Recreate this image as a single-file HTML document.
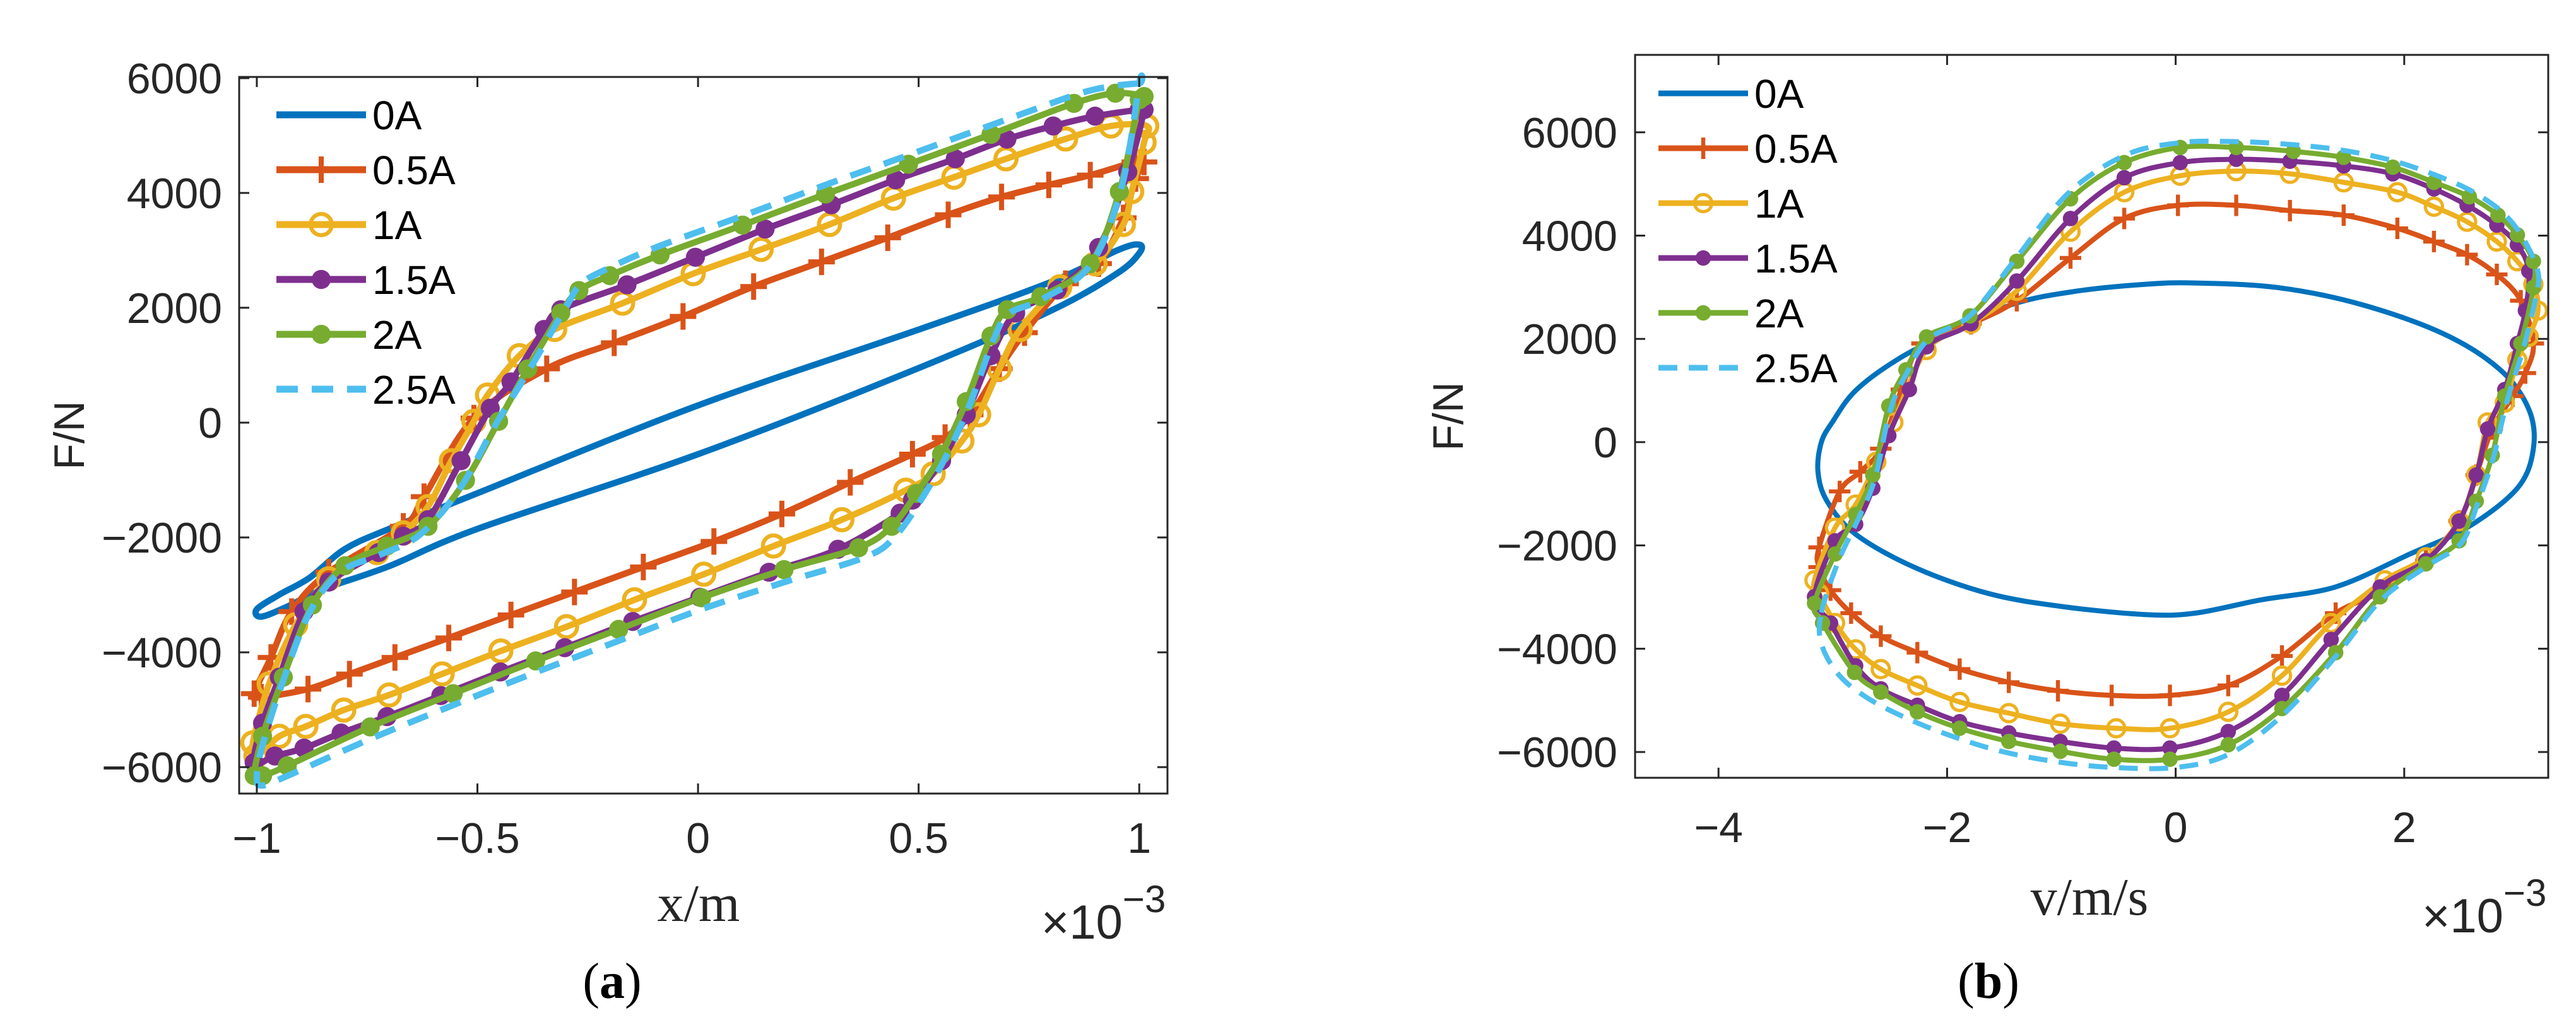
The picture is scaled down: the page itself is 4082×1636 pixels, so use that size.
<!DOCTYPE html>
<html><head><meta charset="utf-8"><style>
html,body{margin:0;padding:0;background:#fff;}
svg{display:block;}
.tk{font-family:"Liberation Sans",sans-serif;font-size:68px;fill:#262626;}
.lg{font-family:"Liberation Sans",sans-serif;font-size:64px;fill:#000;}
.xl{font-family:"Liberation Serif",serif;font-size:84px;fill:#262626;}
.cap{font-family:"Liberation Serif",serif;font-size:80px;font-weight:bold;fill:#000;}
</style></head><body>
<svg id="fig" width="4082" height="1636" viewBox="0 0 4082 1636" xmlns="http://www.w3.org/2000/svg">
<g id="pa"></g>
<g id="pb"></g>
</svg>
<script>
const seriesNames = ["0A","0.5A","1A","1.5A","2A","2.5A"];
const colors = ["#0072BD","#D95319","#EDB120","#7E2F8E","#77AC30","#4DBEEE"];
const markers = ["none","plus","ocircle","dot","dot","none"];
const aXTicks = [-1,-0.5,0,0.5,1];
const aXTickLabels = ["\u22121","\u22120.5","0","0.5","1"];
const aYTicks = [-6000,-4000,-2000,0,2000,4000,6000];
const aYTickLabels = ["\u22126000","\u22124000","\u22122000","0","2000","4000","6000"];
const bXTicks = [-4,-2,0,2];
const bXTickLabels = ["\u22124","\u22122","0","2"];
const bYTicks = [-6000,-4000,-2000,0,2000,4000,6000];
const bYTickLabels = ["\u22126000","\u22124000","\u22122000","0","2000","4000","6000"];

const a0X = [1.0,0.95,0.8,0.5,0,-0.5,-0.7,-0.8,-0.88,-0.95,-1.0,-0.99,-0.93,-0.85,-0.7,-0.5,0,0.5,0.8,0.95,1.0];
const a0F = [3100,3000,2450,1620,300,-1230,-1850,-2200,-2700,-3000,-3250,-3380,-3200,-2900,-2500,-1850,-550,950,1950,2600,2950];

const a1X = [0.99,0.889,0.795,0.688,0.567,0.43,0.28,0.126,-0.034,-0.19,-0.343,-0.508,-0.621,-0.668,-0.837,-0.921,-0.968,-1.006,-0.99,-0.884,-0.79,-0.687,-0.565,-0.424,-0.28,-0.124,0.036,0.19,0.345,0.486,0.56,0.617,0.683,0.74,0.833,0.908,0.964,0.992,1.011];
const a1F = [4540,4310,4140,3930,3620,3220,2800,2370,1850,1390,937,80,-1290,-1806,-2606,-3290,-4090,-4720,-4780,-4640,-4380,-4090,-3750,-3350,-2950,-2514,-2070,-1590,-1040,-550,-260,137,940,1566,2420,2770,3566,4250,4540];

const a2X = [1.017,0.936,0.833,0.698,0.58,0.443,0.298,0.143,-0.011,-0.171,-0.325,-0.405,-0.477,-0.508,-0.559,-0.612,-0.668,-0.728,-0.837,-0.912,-0.972,-1.009,-1.002,-0.949,-0.889,-0.803,-0.7,-0.58,-0.447,-0.298,-0.144,0.013,0.171,0.326,0.471,0.533,0.598,0.636,0.683,0.73,0.82,0.9,0.964,0.983,1.011];
const a2F = [5166,5166,4940,4594,4274,3909,3451,3017,2594,2080,1623,1166,480,23,-663,-1463,-1920,-2263,-2720,-3520,-4549,-5577,-5806,-5463,-5291,-5006,-4743,-4377,-3977,-3554,-3086,-2640,-2149,-1691,-1177,-891,-320,137,937,1623,2366,2766,3451,4023,4880];

const a3X = [1.0,0.9,0.805,0.7,0.583,0.448,0.302,0.152,-0.006,-0.161,-0.311,-0.349,-0.424,-0.471,-0.537,-0.612,-0.668,-0.724,-0.837,-0.893,-0.949,-0.987,-1.006,-0.959,-0.893,-0.809,-0.705,-0.583,-0.448,-0.302,-0.148,0.004,0.161,0.317,0.458,0.486,0.552,0.608,0.664,0.72,0.814,0.908,0.974,1.011];
const a3F = [5450,5337,5166,4937,4594,4229,3794,3371,2880,2400,1966,1623,709,251,-663,-1691,-1977,-2263,-2777,-3291,-4434,-5234,-5920,-5806,-5669,-5406,-5120,-4754,-4343,-3920,-3463,-3040,-2606,-2206,-1577,-1349,-663,137,1166,1909,2309,3051,4366,5451];

const a4X = [1.011,0.946,0.852,0.664,0.477,0.289,0.101,-0.086,-0.2,-0.27,-0.311,-0.386,-0.452,-0.527,-0.612,-0.705,-0.8,-0.874,-0.94,-0.987,-1.006,-0.987,-0.931,-0.743,-0.555,-0.368,-0.18,0.008,0.195,0.364,0.439,0.495,0.552,0.608,0.664,0.701,0.777,0.889,0.955,1.0];
const a4F = [5680,5737,5560,5020,4500,3980,3440,2920,2560,2300,1909,937,23,-1006,-1806,-2149,-2491,-3177,-4434,-5463,-6149,-6149,-5977,-5300,-4720,-4150,-3600,-3050,-2560,-2180,-1806,-1234,-549,366,1509,1966,2194,2766,4023,5623];

const a5X = [1.0,0.93,0.852,0.664,0.477,0.289,0.101,-0.086,-0.2,-0.265,-0.3,-0.38,-0.46,-0.54,-0.63,-0.72,-0.81,-0.88,-0.945,-0.99,-1.0,-0.987,-0.93,-0.74,-0.555,-0.368,-0.18,0.008,0.195,0.383,0.45,0.505,0.56,0.615,0.67,0.705,0.78,0.89,0.96,1.0];
const a5F = [5909,5850,5700,5180,4660,4140,3600,3080,2700,2420,2000,950,-50,-1150,-1950,-2300,-2600,-3300,-4600,-5700,-6200,-6320,-6150,-5500,-4920,-4350,-3800,-3250,-2780,-2330,-1950,-1350,-620,300,1450,1900,2150,2750,4100,5909];

const b0V = [-3.13,-3.1,-3.0,-2.8,-2.44,-2.0,-1.42,-0.85,-0.27,0.17,0.89,1.61,2.34,2.84,3.09,3.13,2.99,2.55,2.05,1.4,0.74,0.17,-0.27,-0.99,-1.64,-2.29,-2.8,-3.05];
const b0F = [-573,0,400,1000,1592,2100,2675,2930,3057,3083,2994,2675,2102,1401,637,-127,-892,-1656,-2166,-2803,-3057,-3312,-3338,-3185,-2930,-2420,-1783,-1146];

const b1V = [-3.12,-2.94,-2.76,-2.58,-2.4,-2.22,-1.79,-1.39,-0.92,-0.45,0.02,0.53,1.0,1.47,1.94,2.26,2.55,2.81,3.02,3.13,3.06,2.95,2.77,2.63,2.48,2.19,1.76,1.4,0.93,0.46,-0.05,-0.56,-1.03,-1.46,-1.89,-2.26,-2.58,-2.84,-3.02,-3.12];
const b1F = [-2038,-955,-573,-127,1019,1911,2293,2739,3567,4331,4586,4586,4484,4395,4140,3885,3631,3248,2739,1911,1338,892,255,-637,-1529,-2293,-2930,-3312,-4140,-4713,-4904,-4904,-4815,-4650,-4395,-4076,-3758,-3312,-2866,-2420];

const b2V = [-3.16,-2.98,-2.8,-2.62,-2.47,-2.18,-1.79,-1.39,-0.92,-0.45,0.04,0.53,1.0,1.47,1.94,2.26,2.55,2.81,2.99,3.13,3.17,3.09,2.99,2.88,2.73,2.63,2.48,2.19,1.83,1.36,0.93,0.46,-0.05,-0.52,-1.01,-1.46,-1.89,-2.26,-2.58,-2.8,-2.98,-3.12];
const b2F = [-2675,-1656,-1210,-382,382,1783,2293,2930,4076,4841,5159,5248,5197,5032,4841,4560,4268,3885,3503,3057,2548,2038,1592,764,382,-637,-1529,-2229,-2675,-3503,-4522,-5223,-5541,-5541,-5452,-5248,-5032,-4713,-4395,-4013,-3503,-2930];

const b3V = [-3.16,-2.98,-2.8,-2.65,-2.51,-2.33,-2.18,-1.79,-1.39,-0.92,-0.45,0.04,0.53,1.0,1.47,1.9,2.26,2.55,2.81,2.99,3.09,3.06,2.99,2.88,2.73,2.63,2.48,2.19,1.79,1.36,0.93,0.46,-0.05,-0.54,-1.01,-1.46,-1.89,-2.26,-2.58,-2.8,-3.02];
const b3F = [-2994,-1911,-1592,-892,127,1019,1847,2293,3121,4331,5121,5414,5478,5440,5350,5197,4904,4586,4204,3822,3312,2548,1911,1019,255,-637,-1529,-2293,-2803,-3822,-4904,-5605,-5924,-5924,-5796,-5631,-5414,-5096,-4777,-4331,-3503];

const b4V = [-3.16,-2.98,-2.8,-2.65,-2.51,-2.36,-2.18,-1.8,-1.39,-0.92,-0.45,0.04,0.53,1.03,1.47,1.9,2.26,2.57,2.82,2.99,3.13,3.13,3.02,2.88,2.77,2.63,2.48,2.19,1.79,1.4,0.93,0.46,-0.05,-0.54,-1.01,-1.46,-1.89,-2.26,-2.58,-2.81,-3.09];
const b4F = [-3121,-2166,-1401,-637,700,1401,2038,2446,3503,4713,5414,5707,5707,5631,5516,5325,5032,4752,4395,4013,3503,2994,1911,892,-255,-1146,-1911,-2357,-2994,-4076,-5159,-5860,-6140,-6140,-5987,-5796,-5541,-5223,-4841,-4459,-3503];

const b5V = [-3.1,-2.95,-2.78,-2.63,-2.5,-2.35,-2.16,-1.8,-1.4,-0.95,-0.45,0.04,0.53,1.03,1.47,1.9,2.3,2.6,2.86,3.04,3.17,3.15,3.04,2.9,2.78,2.64,2.5,2.2,1.8,1.4,0.93,0.46,0.0,-0.54,-1.01,-1.5,-1.95,-2.35,-2.7,-2.95,-3.1];
const b5F = [-3300,-2300,-1500,-700,600,1350,2000,2450,3550,4800,5550,5800,5820,5760,5650,5450,5150,4850,4450,3950,3300,2800,1800,800,-300,-1200,-1950,-2400,-3050,-4150,-5300,-6050,-6300,-6300,-6200,-6000,-5700,-5350,-4950,-4500,-3900];

const aSeries = [[a0X,a0F],[a1X,a1F],[a2X,a2F],[a3X,a3F],[a4X,a4F],[a5X,a5F]];
const bSeries = [[b0V,b0F],[b1V,b1F],[b2V,b2F],[b3V,b3F],[b4V,b4F],[b5V,b5F]];

const NS = "http://www.w3.org/2000/svg";
function mk(tag, attrs, parent){
  const e = document.createElementNS(NS, tag);
  for (const k in attrs) e.setAttribute(k, attrs[k]);
  parent.appendChild(e);
  return e;
}
function smoothPath(pts){
  const n = pts.length;
  let d = "M" + pts[0][0].toFixed(1) + "," + pts[0][1].toFixed(1);
  for (let i = 0; i < n; i++){
    const p0 = pts[(i-1+n)%n], p1 = pts[i], p2 = pts[(i+1)%n], p3 = pts[(i+2)%n];
    const c1x = p1[0] + (p2[0]-p0[0])/6, c1y = p1[1] + (p2[1]-p0[1])/6;
    const c2x = p2[0] - (p3[0]-p1[0])/6, c2y = p2[1] - (p3[1]-p1[1])/6;
    d += " C" + c1x.toFixed(1)+","+c1y.toFixed(1)+" "+c2x.toFixed(1)+","+c2y.toFixed(1)+" "+p2[0].toFixed(1)+","+p2[1].toFixed(1);
  }
  return d + " Z";
}
function drawMarker(g, type, x, y, col, r, lw){
  let m = null;
  if (type === "plus"){
    m = mk("path", {d:"M"+(x-r)+","+y+" H"+(x+r)+" M"+x+","+(y-r)+" V"+(y+r), stroke:col, "stroke-width":lw, fill:"none"}, g);
  } else if (type === "ocircle"){
    m = mk("circle", {cx:x, cy:y, r:r*0.8, stroke:col, "stroke-width":lw*0.8, fill:"none"}, g);
  } else if (type === "dot"){
    m = mk("circle", {cx:x, cy:y, r:r*0.72, fill:col}, g);
  }
  if (m){
    
    
  }
}

function drawPanel(cfg){
  const g = document.getElementById(cfg.id);
  const sx = v => cfg.L + (v - cfg.xmin) / (cfg.xmax - cfg.xmin) * (cfg.R - cfg.L);
  const sy = v => cfg.B - (v - cfg.ymin) / (cfg.ymax - cfg.ymin) * (cfg.B - cfg.T);
  const sg = mk("g", {}, g);
  
  
  cfg.series.forEach((s, i) => {
    const pts = s[0].map((v, k) => [sx(v), sy(s[1][k])]);
    const p = mk("path", {d:smoothPath(pts), fill:"none", stroke:colors[i], "stroke-width":cfg.lw, "stroke-linejoin":"round"}, sg);
    if (i === 5) p.setAttribute("stroke-dasharray", cfg.dash);
    
    
    if (markers[i] !== "none") pts.forEach(q => drawMarker(sg, markers[i], q[0], q[1], colors[i], cfg.mr, cfg.lw*0.8));
  });
  const box = mk("rect", {x:cfg.L, y:cfg.T, width:cfg.R-cfg.L, height:cfg.B-cfg.T, fill:"none", stroke:"#262626", "stroke-width":3}, g);
  
  
  cfg.xt.forEach((v, i) => {
    const x = sx(v);
    mk("path", {d:"M"+x+","+cfg.B+" v-16 M"+x+","+cfg.T+" v16", stroke:"#262626", "stroke-width":3}, g);
    const t = mk("text", {x:x, y:cfg.xtY, "text-anchor":"middle", class:"tk"}, g);
    t.textContent = cfg.xtl[i];
    
    
  });
  cfg.yt.forEach((v, i) => {
    const y = sy(v);
    mk("path", {d:"M"+cfg.L+","+y+" h16 M"+cfg.R+","+y+" h-16", stroke:"#262626", "stroke-width":3}, g);
    const t = mk("text", {x:cfg.ytX, y:y+24, "text-anchor":"end", class:"tk"}, g);
    t.textContent = cfg.ytl[i];
    
    
  });
  const lg = mk("g", {}, g);
  
  
  seriesNames.forEach((nm, i) => {
    const y = cfg.legY + i*cfg.legDy;
    const l = mk("line", {x1:cfg.legX1, x2:cfg.legX2, y1:y, y2:y, stroke:colors[i], "stroke-width":cfg.lw+1}, lg);
    if (i === 5) l.setAttribute("stroke-dasharray", cfg.dash);
    
    
    if (markers[i] !== "none") drawMarker(lg, markers[i], (cfg.legX1+cfg.legX2)/2, y, colors[i], cfg.mr, cfg.lw*0.8);
    const t = mk("text", {x:cfg.legX2+10, y:y+23, class:"lg"}, lg);
    t.textContent = nm;
    
    
  });
  const yl = mk("text", {x:0, y:0, "text-anchor":"middle", class:"tk", transform:"translate("+cfg.ylX+","+((cfg.T+cfg.B)/2)+") rotate(-90)"}, g);
  yl.textContent = "F/N";
  
  
  const xl = mk("text", {x:cfg.xlX, y:cfg.xlY, "text-anchor":"middle", class:"xl"}, g);
  xl.textContent = cfg.xlabel;
  
  
  const ex = mk("text", {x:cfg.R-200, y:cfg.xlY+28, style:"font-family:'Liberation Sans',sans-serif;font-size:76px;fill:#262626"}, g);
  ex.innerHTML = '\u00d710<tspan dy="-42" style="font-size:60px">\u22123</tspan>';
  
  
  const cp = mk("text", {x:cfg.capX, y:1582, "text-anchor":"middle", class:"cap"}, g);
  cp.innerHTML = '<tspan font-weight="normal">(</tspan>' + cfg.cap + '<tspan font-weight="normal">)</tspan>';
  
  
}

drawPanel({id:"pa", L:379, R:1850, T:122, B:1258, xmin:-1.04, xmax:1.064, ymin:-6460, ymax:6020,
  series:aSeries, xt:aXTicks, xtl:aXTickLabels, yt:aYTicks, ytl:aYTickLabels,
  xtY:1352, ytX:352, lw:10, mr:21, dash:"34 22",
  legX1:438, legX2:580, legY:182, legDy:87, ylX:133, xlX:1107, xlY:1460, xlabel:"x/m", capX:970, cap:"a"});
drawPanel({id:"pb", L:2591, R:4038, T:87, B:1233, xmin:-4.73, xmax:3.26, ymin:-6500, ymax:7500,
  series:bSeries, xt:bXTicks, xtl:bXTickLabels, yt:bYTicks, ytl:bYTickLabels,
  xtY:1335, ytX:2563, lw:8, mr:17, dash:"30 18",
  legX1:2628, legX2:2770, legY:148, legDy:87, ylX:2318, xlX:3311, xlY:1450, xlabel:"v/m/s", capX:3151, cap:"b"});
</script>
</body></html>
